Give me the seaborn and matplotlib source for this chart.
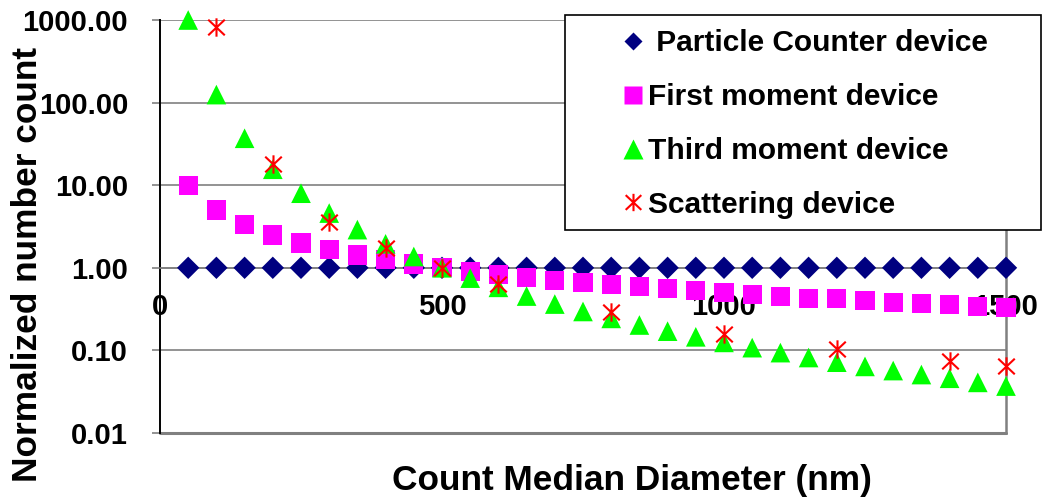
import matplotlib
matplotlib.use("Agg")
import matplotlib.pyplot as plt
import seaborn as sns
import numpy as np
import pandas as pd
from matplotlib.path import Path
from matplotlib.patches import Rectangle
from matplotlib.lines import Line2D
from matplotlib.ticker import FixedLocator, FuncFormatter, NullLocator

# Count median diameter (nm)
diameter = [50, 100, 150, 200, 250, 300, 350, 400, 450, 500,
            550, 600, 650, 700, 750, 800, 850, 900, 950, 1000,
            1050, 1100, 1150, 1200, 1250, 1300, 1350, 1400, 1450, 1500]

particle_counter = [1.0] * 30

first_moment = [10.0, 5.0, 3.33, 2.5, 2.0, 1.67, 1.43, 1.25, 1.11, 1.0,
                0.91, 0.83, 0.77, 0.71, 0.67, 0.63, 0.59, 0.56, 0.53, 0.50,
                0.48, 0.45, 0.43, 0.42, 0.40, 0.38, 0.37, 0.36, 0.34, 0.33]

third_moment = [1000.0, 125.0, 37.0, 15.6, 8.0, 4.6, 2.9, 1.95, 1.37, 1.0,
                0.75, 0.58, 0.455, 0.364, 0.296, 0.244, 0.203, 0.171, 0.146, 0.125,
                0.108, 0.094, 0.082, 0.072, 0.064, 0.057, 0.051, 0.046, 0.041, 0.037]

scatter_diameter = [100, 200, 300, 400, 500, 600, 800, 1000, 1200, 1400, 1500]
scattering = [820.0, 18.2, 3.6, 1.75, 1.0, 0.64, 0.29, 0.16, 0.105, 0.074, 0.064]

series_labels = [" Particle Counter device", "First moment device",
                 "Third moment device", "Scattering device"]
x_ticks = [0, 500, 1000, 1500]
y_ticks = [0.01, 0.1, 1, 10, 100, 1000]

# Excel-like asterisk: vertical bar plus an X
star = Path([(0, -1), (0, 1), (-0.9, -0.85), (0.9, 0.85), (-0.9, 0.85), (0.9, -0.85)],
            [Path.MOVETO, Path.LINETO, Path.MOVETO, Path.LINETO, Path.MOVETO, Path.LINETO])

sns.set_theme(style="white")
plt.rcParams["font.family"] = ["Liberation Sans", "DejaVu Sans"]
plt.rcParams["font.weight"] = "bold"
for key in ("text.color", "axes.labelcolor", "xtick.color", "ytick.color"):
    plt.rcParams[key] = "black"

W, H = 1042, 498
fig = plt.figure(figsize=(W / 100, H / 100), dpi=100)
ax = fig.add_axes([160 / W, 1 - 433 / H, 846 / W, 413 / H])

navy, magenta, green, red = "#000080", "#FF00FF", "#00FF00", "#FF0000"

df_pc = pd.DataFrame({"d": diameter, "v": particle_counter})
df_fm = pd.DataFrame({"d": diameter, "v": first_moment})
df_tm = pd.DataFrame({"d": diameter, "v": third_moment})
df_sc = pd.DataFrame({"d": scatter_diameter, "v": scattering})

sns.scatterplot(data=df_pc, x="d", y="v", ax=ax, marker="D", color=navy,
                s=130, edgecolor="none", legend=False, clip_on=False, zorder=3)
sns.scatterplot(data=df_fm, x="d", y="v", ax=ax, marker="s", color=magenta,
                s=190, edgecolor="none", legend=False, clip_on=False, zorder=4)
sns.scatterplot(data=df_tm, x="d", y="v", ax=ax, marker="^", color=green,
                s=200, edgecolor="none", legend=False, clip_on=False, zorder=5)
sns.scatterplot(data=df_sc, x="d", y="v", ax=ax, marker=star, color=red,
                s=175, edgecolor=red, linewidth=1.5, legend=False, clip_on=False, zorder=6)

ax.set_yscale("log")
ax.set_xlim(0, 1500)
ax.set_ylim(0.01, 1000)

grid_gray = "#808080"
ax.yaxis.set_major_locator(FixedLocator(y_ticks))
ax.yaxis.set_minor_locator(NullLocator())
ax.yaxis.set_major_formatter(FuncFormatter(lambda v, p: f"{v:.2f}"))
ax.xaxis.set_major_locator(FixedLocator(x_ticks))
ax.xaxis.set_major_formatter(FuncFormatter(lambda v, p: f"{int(v)}"))

ax.grid(axis="y", color=grid_gray, linewidth=1.2)
ax.grid(axis="x", visible=False)
ax.set_axisbelow(True)

ax.spines["bottom"].set_position(("data", 1))
ax.spines["bottom"].set_color(grid_gray)
ax.spines["bottom"].set_linewidth(1.2)
ax.spines["top"].set_visible(False)
ax.spines["right"].set_color(grid_gray)
ax.spines["right"].set_linewidth(1.8)
ax.spines["left"].set_color("black")
ax.spines["left"].set_linewidth(1.4)
ax.axhline(0.01, color=grid_gray, linewidth=2.2, clip_on=False, zorder=0.6)

ax.tick_params(axis="y", which="major", length=6, width=1.2, color=grid_gray,
               labelcolor="black", direction="out", pad=17, labelsize=21, left=True)
ax.tick_params(axis="x", which="major", length=0, pad=18, labelsize=21,
               labelcolor="black")
for t in ax.get_xticklabels() + ax.get_yticklabels():
    t.set_fontweight("bold")

ax.set_xlabel("Count Median Diameter (nm)", fontsize=25.4, fontweight="bold", color="black")
ax.set_ylabel("Normalized number count", fontsize=25.4, fontweight="bold", color="black")
ax.xaxis.set_label_coords(0.558, -0.074)
ax.yaxis.set_label_coords(-0.137, 0.407)

# Legend box and entries
fig.add_artist(Rectangle((565 / W, 1 - 230 / H), 476 / W, 215 / H,
                         transform=fig.transFigure, facecolor="white",
                         edgecolor="black", linewidth=1.2, zorder=4))
handles = [
    Line2D([], [], linestyle="none", marker="D", markersize=9, color=navy, markeredgecolor="none"),
    Line2D([], [], linestyle="none", marker="s", markersize=13.5, color=magenta, markeredgecolor="none"),
    Line2D([], [], linestyle="none", marker="^", markersize=14, color=green, markeredgecolor="none"),
    Line2D([], [], linestyle="none", marker=star, markersize=12.5, color=red, markeredgecolor=red,
           markeredgewidth=1.5),
]
fig.legend(handles, series_labels, loc="upper left",
           bbox_to_anchor=(618 / W, 1 - 29 / H), frameon=False, borderpad=0,
           borderaxespad=0, handlelength=1.0, handletextpad=0.0, labelspacing=0.87,
           prop={"family": "Liberation Sans", "weight": "bold", "size": 21.5}).set_zorder(5)

fig.savefig("out.png", dpi=100)
